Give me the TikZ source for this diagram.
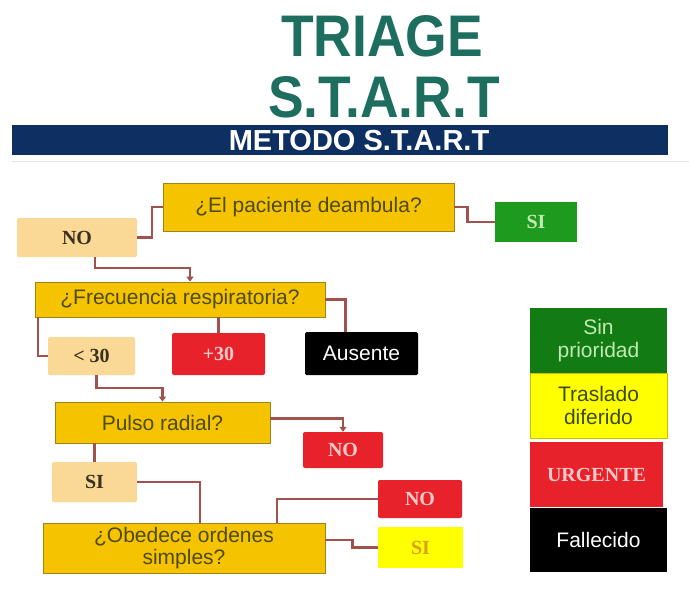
\documentclass[tikz,border=0pt]{standalone}
\usepackage{fontspec}
\setmainfont{Liberation Serif}
\setsansfont{Liberation Sans}
\usetikzlibrary{arrows.meta}
\definecolor{teal1}{HTML}{1E6E60}
\definecolor{navy1}{HTML}{0D2F62}
\definecolor{gold1}{HTML}{F5C300}
\definecolor{goldedge}{HTML}{A08418}
\definecolor{goldtxt}{HTML}{4D4A12}
\definecolor{peach1}{HTML}{F9D995}
\definecolor{peachtxt}{HTML}{3A3020}
\definecolor{red1}{HTML}{E8222A}
\definecolor{redtxt}{HTML}{F7C9C9}
\definecolor{green1}{HTML}{1E9A1E}
\definecolor{green2}{HTML}{137B13}
\definecolor{greentxt}{HTML}{C0EAB0}
\definecolor{yel1}{HTML}{FFFF00}
\definecolor{yeledge}{HTML}{C8C000}
\definecolor{yeltxt}{HTML}{3B4A12}
\definecolor{sitxt}{HTML}{D9A21A}
\definecolor{conncol}{HTML}{A0524C}
\tikzset{
  serifbold/.style={font=\bfseries\fontsize{20}{22}\selectfont},
  qbox/.style={draw=goldedge, line width=0.8pt, fill=gold1, text=goldtxt, inner sep=0pt,
    font=\sffamily\fontsize{21}{23}\selectfont, align=center},
  pbox/.style={fill=peach1, text=peachtxt, inner sep=0pt, rounded corners=1.5pt, serifbold},
  rbox/.style={fill=red1, text=redtxt, inner sep=0pt, rounded corners=2pt, serifbold},
  gbox/.style={fill=green1, text=greentxt, inner sep=0pt, serifbold},
  kbox/.style={fill=black, text=white, inner sep=0pt, rounded corners=1.5pt,
    font=\sffamily\fontsize{21}{23}\selectfont},
  ybox/.style={fill=yel1, text=sitxt, inner sep=0pt, serifbold},
  legbox/.style={inner sep=0pt, align=center, font=\sffamily\fontsize{21}{23}\selectfont},
  conn/.style={draw=conncol, line width=2.2pt},
  tip/.style={-{Triangle[length=5pt,width=7pt]}},
}
\begin{document}
\begin{tikzpicture}[x=1pt,y=-1pt]
\useasboundingbox (0,0) rectangle (689,600);
\fill[white] (0,0) rectangle (689,600);
% title
\node[text=teal1, font=\sffamily\bfseries\fontsize{58.7}{60}\selectfont, xscale=0.91, inner sep=0pt] (t1) at (382,36) {TRIAGE};
\node[text=teal1, font=\sffamily\bfseries\fontsize{58.7}{60}\selectfont, xscale=0.91, inner sep=0pt] (t2) at (384,97) {S.T.A.R.T};
\fill[navy1] (12,125) rectangle (668,155);
\draw[black!10, line width=1pt] (12,161) -- (689,161);
\node[text=white, font=\sffamily\bfseries\fontsize{29}{30}\selectfont, inner sep=0pt] (t3) at (359,141) {METODO S.T.A.R.T};
% question boxes
\node[qbox, minimum width=291pt, minimum height=48pt] (deamb) at (308.5,207) {¿El paciente deambula?};
\node[qbox, minimum width=290pt, minimum height=35pt] (frec) at (180,299.5) {¿Frecuencia respiratoria?};
\node[qbox, minimum width=215pt, minimum height=41pt] (pulso) at (162.5,422.5) {Pulso radial?};
\node[qbox, minimum width=282pt, minimum height=50pt, font=\sffamily\fontsize{21}{22}\selectfont] (obed) at (184,548) {¿Obedece ordenes\\simples?};
% peach
\node[pbox, minimum width=120pt, minimum height=39pt] (no1) at (77,237.5) {NO};
\node[pbox, minimum width=87pt, minimum height=38pt] (lt30) at (91.5,356) {< 30};
\node[pbox, minimum width=85pt, minimum height=40pt] (si2) at (94.5,482) {SI};
% outcomes
\node[gbox, minimum width=82pt, minimum height=40pt] (si1) at (536,222) {SI};
\node[rbox, minimum width=93pt, minimum height=42pt] (p30) at (218.5,354) {+30};
\node[kbox, minimum width=113pt, minimum height=43pt] (aus) at (361.5,353.5) {Ausente};
\node[rbox, minimum width=80pt, minimum height=36pt] (no2) at (343,450) {NO};
\node[rbox, minimum width=84pt, minimum height=38pt] (no3) at (420,499) {NO};
\node[ybox, minimum width=85pt, minimum height=41pt] (si3) at (420.5,547.5) {SI};
% legend
\node[legbox, fill=green2, text=greentxt, minimum width=137pt, minimum height=65pt] (l1) at (598.5,340.5) {Sin\\prioridad};
\node[legbox, fill=yel1, draw=yeledge, line width=0.8pt, text=yeltxt, minimum width=137pt, minimum height=65pt] (l2) at (598.5,405.5) {Traslado\\diferido};
\node[legbox, fill=red1, text=redtxt, font=\bfseries\fontsize{20}{22}\selectfont, minimum width=133pt, minimum height=65pt] (l3) at (596.5,474.5) {URGENTE};
\node[legbox, fill=black, text=white, minimum width=137pt, minimum height=64pt] (l4) at (598.5,540) {Fallecido};
% connectors
\draw[conn] (no1.east) -- ++(15,0) |- (deamb.west);
\draw[conn] (deamb.east) -- ++(13,0) |- (si1.west);
\draw[conn, tip] ([xshift=18pt]no1.south) -- ++(0,11) -| ([xshift=10pt]frec.north);
\draw[conn] (frec.east) -| ([xshift=-16pt]aus.north);
\draw[conn] (frec.south -| p30.north) -- (p30.north);
\draw[conn] ([xshift=3pt]frec.south west) |- (lt30.west);
\draw[conn, tip] ([xshift=5pt]lt30.south) -- ++(0,13) -| (pulso.north);
\draw[conn, tip] ([yshift=4pt]pulso.east) -| (no2.north);
\draw[conn] (pulso.south -| si2.north) -- (si2.north);
\draw[conn] (si2.east) -| ([xshift=16pt]obed.north);
\draw[conn] ([xshift=93pt]obed.north) |- (no3.west);
\draw[conn] ([yshift=8pt]obed.east) -- ++(27,0) |- (si3.west);
\end{tikzpicture}
\end{document}
